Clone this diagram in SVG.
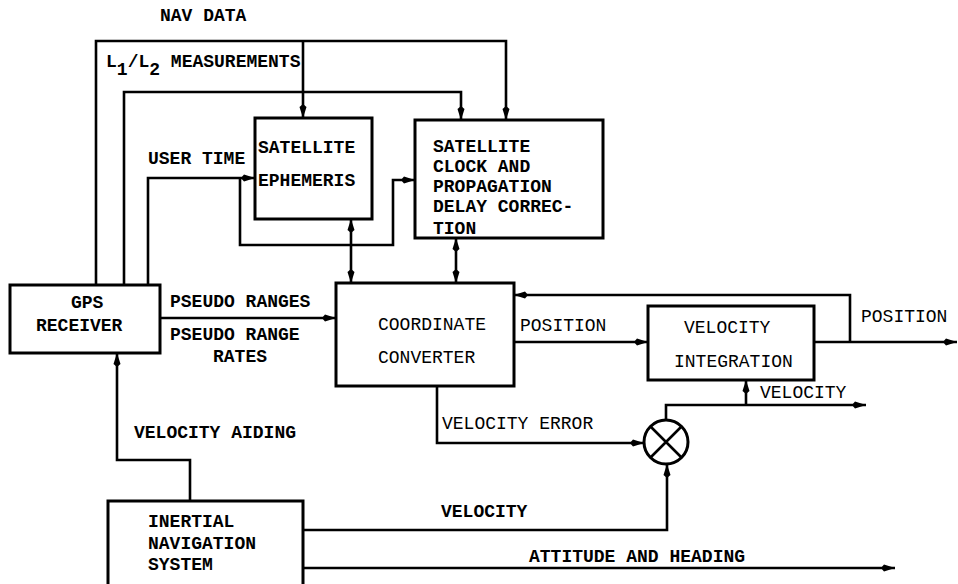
<svg xmlns="http://www.w3.org/2000/svg" width="958" height="584" viewBox="0 0 958 584">
<style>
.box{fill:none;stroke:#000;stroke-width:3}
.ln{fill:none;stroke:#000;stroke-width:2.6;stroke-linejoin:miter}
.t{font-family:"Liberation Mono","Courier New",monospace;font-size:18px;font-weight:bold;fill:#000}
.l{font-weight:normal}
</style>
<defs>
<marker id="arr" viewBox="0 0 14 10" refX="14" refY="5" markerWidth="14" markerHeight="10" markerUnits="userSpaceOnUse" orient="auto-start-reverse">
<path d="M0,5 L3,1.5 L14,5 L3,8.5 Z" fill="#000"/>
</marker>
</defs>
<rect width="958" height="584" fill="#fff"/>

<g id="connectors">
<path class="ln" d="M96,285 V41 H506 V120" marker-end="url(#arr)"/>
<path class="ln" d="M303,41 V118" marker-end="url(#arr)"/>
<path class="ln" d="M124,285 V92 H461 V120" marker-end="url(#arr)"/>
<path class="ln" d="M148,285 V178 H255" marker-end="url(#arr)"/>
<path class="ln" d="M240,178 V245 H393 V180 H415" marker-end="url(#arr)"/>
<path class="ln" d="M351,219 V283" marker-start="url(#arr)" marker-end="url(#arr)"/>
<path class="ln" d="M456,238 V283" marker-start="url(#arr)" marker-end="url(#arr)"/>
<path class="ln" d="M160,318 H336" marker-end="url(#arr)"/>
<path class="ln" d="M514,342 H648" marker-end="url(#arr)"/>
<path class="ln" d="M814,342 H957" marker-end="url(#arr)"/>
<path class="ln" d="M850,342 V295 H514" marker-end="url(#arr)"/>
<path class="ln" d="M746,405 V380" marker-end="url(#arr)"/>
<path class="ln" d="M666,420 V405 H866" marker-end="url(#arr)"/>
<path class="ln" d="M437,386 V443 H644" marker-end="url(#arr)"/>
<path class="ln" d="M303,530 H667 V464" marker-end="url(#arr)"/>
<path class="ln" d="M303,568 H895" marker-end="url(#arr)"/>
<path class="ln" d="M190,501 V460 H117 V353" marker-end="url(#arr)"/>
</g>

<g id="labels">
<text class="t" x="160" y="21">NAV DATA</text>
<text class="t" x="106" y="67">L<tspan dy="8">1</tspan><tspan dy="-8">/L</tspan><tspan dy="8">2</tspan><tspan dy="-8"> MEASUREMENTS</tspan></text>
<text class="t" x="148" y="164">USER TIME</text>
<text class="t" x="170" y="307">PSEUDO RANGES</text>
<text class="t" x="170" y="340">PSEUDO RANGE</text>
<text class="t" x="213" y="362">RATES</text>
<text class="t l" x="520" y="331">POSITION</text>
<text class="t l" x="861" y="322">POSITION</text>
<text class="t l" x="760" y="398">VELOCITY</text>
<text class="t l" x="442" y="429">VELOCITY ERROR</text>
<text class="t" x="134" y="438">VELOCITY AIDING</text>
<text class="t" x="441" y="517">VELOCITY</text>
<text class="t" x="529" y="562">ATTITUDE AND HEADING</text>
</g>

<g id="gps">
<rect class="box" x="10" y="285" width="150" height="68"/>
<text class="t" x="71" y="308">GPS</text>
<text class="t" x="36" y="331">RECEIVER</text>
</g>

<g id="ephemeris">
<rect class="box" x="255" y="118" width="117" height="101"/>
<text class="t" x="258" y="153">SATELLITE</text>
<text class="t" x="258" y="186">EPHEMERIS</text>
</g>

<g id="clock">
<rect class="box" x="415" y="120" width="188" height="118"/>
<text class="t" x="433" y="152">SATELLITE</text>
<text class="t" x="433" y="172">CLOCK AND</text>
<text class="t" x="433" y="192">PROPAGATION</text>
<text class="t" x="433" y="212">DELAY CORREC-</text>
<text class="t" x="433" y="234">TION</text>
</g>

<g id="converter">
<rect class="box" x="336" y="283" width="178" height="103"/>
<text class="t l" x="378" y="330">COORDINATE</text>
<text class="t l" x="378" y="363">CONVERTER</text>
</g>

<g id="velint">
<rect class="box" x="648" y="306" width="166" height="74"/>
<text class="t l" x="684" y="333">VELOCITY</text>
<text class="t l" x="674" y="367">INTEGRATION</text>
</g>

<g id="multiplier">
<circle class="box" cx="666" cy="442" r="22"/>
<path class="ln" d="M650.5,426.5 L681.5,457.5 M681.5,426.5 L650.5,457.5"/>
</g>

<g id="ins">
<path class="box" d="M108,600 V501 H303 V600"/>
<text class="t" x="148" y="527">INERTIAL</text>
<text class="t" x="148" y="549">NAVIGATION</text>
<text class="t" x="148" y="570">SYSTEM</text>
</g>
</svg>
